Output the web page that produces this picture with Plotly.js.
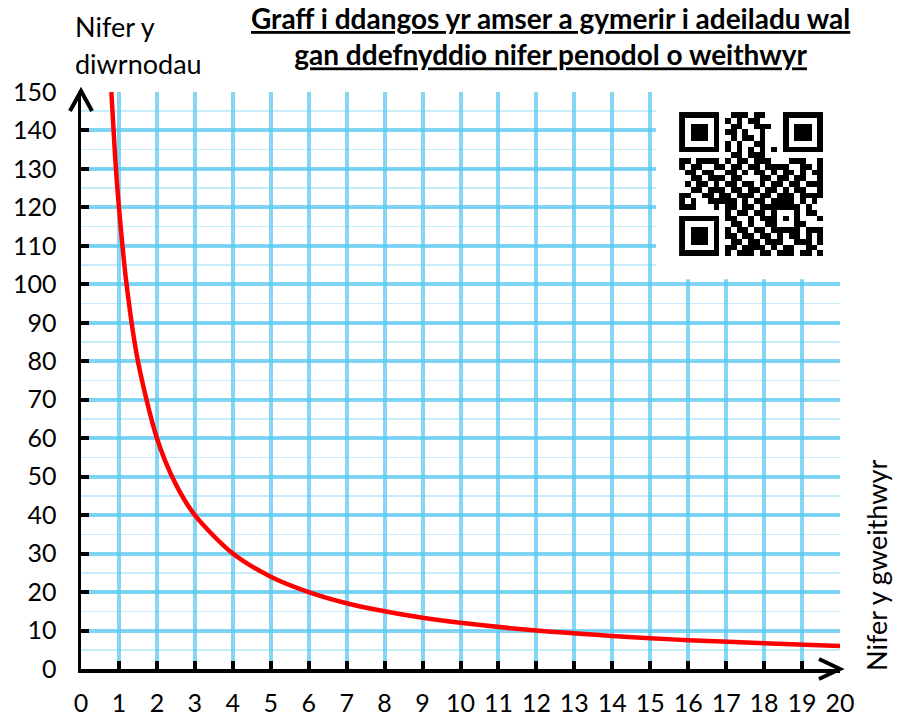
<!DOCTYPE html>
<html>
<head>
<meta charset="utf-8">
<script src="https://cdn.plot.ly/plotly-3.0.1.min.js"></script>
<style>html,body{margin:0;padding:0;background:#fff;}#chart{width:897px;height:718px;}</style>
</head>
<body>
<div id="chart"></div>
<script>
// Values
const workers = [0.8, 0.9, 1, 1.2, 1.5, 2, 2.5, 3, 4, 5, 6, 7, 8, 9, 10, 12, 14, 15, 16, 18, 20];
const days    = [150, 133, 120, 100, 80, 60, 48, 40, 30, 24, 20, 17.1, 15, 13.3, 12, 10, 8.6, 8, 7.5, 6.7, 6];
const xTicks = [0,1,2,3,4,5,6,7,8,9,10,11,12,13,14,15,16,17,18,19,20];
const yTicks = [0,10,20,30,40,50,60,70,80,90,100,110,120,130,140,150];

const titleText = "Graff i ddangos yr amser a gymerir i adeiladu wal<br>gan ddefnyddio nifer penodol o weithwyr";
const yTitleLines = ["Nifer y", "diwrnodau"];
const xTitleText = "Nifer y gweithwyr";

// QR code modules (approximate)
const qrRows = [
"1111111001110110001111111",
"1000001010101100001000001",
"1011101001100111001011101",
"1011101011010010001011101",
"1011101001011010001011101",
"1000001010100110001000001",
"1111111010101010101111111",
"0000000001101110000000000",
"1101111010110111000111001",
"1011001101101101111001101",
"0110110011010110101101011",
"0011011101100011011011001",
"0101101011011010110110111",
"0011011101101101101011001",
"1100110110111011011101111",
"1010011111010110111101010",
"1110001011011011111110100",
"0000000010110110100010110",
"1111111011001011101010001",
"1000001001101001100011000",
"1011101010110110111110111",
"1011101011011011010110101",
"1011101001101101110011101",
"1000001011011110101100110",
"1111111010111011011101101"
];
const qrZ = qrRows.map(r => r.split('').map(Number));

const FONT = 'Lato, "Open Sans", sans-serif';

const traces = [
  {
    x: workers, y: days, type: 'scatter', mode: 'lines',
    line: {color: '#ff0000', width: 4.5, shape: 'spline', smoothing: 0.8},
    hoverinfo: 'skip', cliponaxis: true
  },
  {
    z: qrZ, type: 'heatmap', xaxis: 'x2', yaxis: 'y2',
    colorscale: [[0, '#ffffff'], [1, '#000000']], showscale: false,
    zsmooth: false, hoverinfo: 'skip', zmin: 0, zmax: 1
  }
];

const PL = 81, PT = 92, PW = 759, PH = 577;
const px = v => (v - PL) / PW;
const py = v => 1 - (v - PT) / PH;

const gridBlue = 'rgba(90,200,240,0.75)';
const layout = {
  width: 897, height: 718,
  margin: {l: 81, r: 57, t: 92, b: 49},
  paper_bgcolor: '#ffffff', plot_bgcolor: '#ffffff',
  showlegend: false,
  font: {family: FONT, color: '#000000'},
  xaxis: {
    range: [0, 20], tickvals: xTicks, ticktext: xTicks.map(String),
    showgrid: true, gridcolor: gridBlue, gridwidth: 4,
    zeroline: false, showline: true, linecolor: '#000000', linewidth: 3.5,
    ticks: 'inside', ticklen: 8, tickwidth: 4, tickcolor: '#000000',
    tickfont: {size: 25, family: FONT, color: '#000'},
    ticklabelstandoff: 9, fixedrange: true
  },
  yaxis: {
    range: [0, 150], tickvals: yTicks, ticktext: yTicks.map(String),
    showgrid: true, gridcolor: gridBlue, gridwidth: 4,
    zeroline: false, showline: true, linecolor: '#000000', linewidth: 3.5,
    ticks: 'inside', ticklen: 8, tickwidth: 4, tickcolor: '#000000',
    tickfont: {size: 25, family: FONT, color: '#000'},
    ticklabelstandoff: 16, fixedrange: true,
    minor: {dtick: 5, tick0: 0, showgrid: true, gridcolor: 'rgba(150,220,245,0.55)', gridwidth: 1.5, ticks: ''}
  },
  xaxis2: {domain: [0.788, 0.9776], range: [-0.5, 24.5], visible: false, showgrid: false, zeroline: false, anchor: 'y2', fixedrange: true},
  yaxis2: {domain: [0.7158, 0.9653], range: [24.5, -0.5], visible: false, showgrid: false, zeroline: false, anchor: 'x2', fixedrange: true},
  shapes: [
    {type: 'rect', xref: 'x', yref: 'y', x0: 15.15, x1: 20.6, y0: 101.3, y1: 153,
     fillcolor: '#ffffff', line: {width: 0}, layer: 'between'},
    {type: 'path', xref: 'paper', yref: 'paper', xsizemode: 'pixel', ysizemode: 'pixel',
     xanchor: 1, yanchor: 0, path: 'M -21 10 L 0 0 L -21 -10',
     line: {color: '#000000', width: 4}},
    {type: 'path', xref: 'paper', yref: 'paper', xsizemode: 'pixel', ysizemode: 'pixel',
     xanchor: 0, yanchor: 1, path: 'M -11 -19 L 0 1 L 11 -19',
     line: {color: '#000000', width: 4}}
  ],
  annotations: [
    {text: '<b><u>' + titleText + '</u></b>', xref: 'paper', yref: 'paper',
     x: px(550), y: py(-1), xanchor: 'center', yanchor: 'top',
     showarrow: false, align: 'center', font: {size: 28, family: FONT, color: '#000'}},
    {text: yTitleLines[0], xref: 'paper', yref: 'paper',
     x: px(73), y: py(26), xanchor: 'left', yanchor: 'middle',
     showarrow: false, align: 'left', font: {size: 27, family: FONT, color: '#000'}},
    {text: yTitleLines[1], xref: 'paper', yref: 'paper',
     x: px(73), y: py(64), xanchor: 'left', yanchor: 'middle',
     showarrow: false, align: 'left', font: {size: 27, family: FONT, color: '#000'}},
    {text: xTitleText, xref: 'paper', yref: 'paper', textangle: -90,
     x: px(876), y: py(566), xanchor: 'center', yanchor: 'middle',
     showarrow: false, font: {size: 27, family: FONT, color: '#000'}}
  ]
};

Plotly.newPlot('chart', traces, layout, {displayModeBar: false, staticPlot: true});
</script>
</body>
</html>
